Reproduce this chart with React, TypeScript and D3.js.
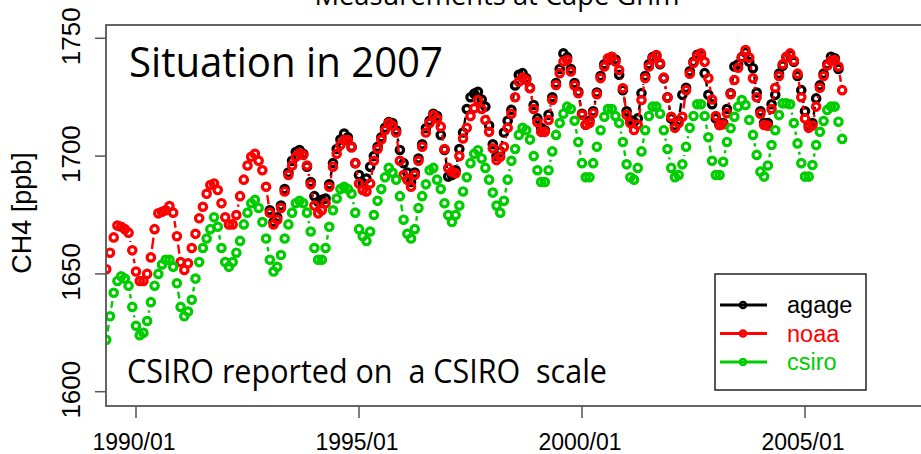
import React, { useRef, useEffect } from "react";
import * as d3 from "d3";

// monthly series, decimal year of first value
const agageStart = 1993;
const noaaStart = 1989 + 4 / 12;
const csiroStart = 1989 + 4 / 12;

const agage = [
  1677, 1672, 1674, 1679, 1686, 1693, 1698, 1701.7, 1702.6, 1701, 1695.5, 1689,
  1683, 1680.6, 1681.4, 1682, 1688, 1697, 1703, 1707, 1709.6, 1708, 1704, 1697,
  1692, 1688.6, 1690.5, 1695.5, 1700, 1704, 1708, 1712, 1714.5, 1714, 1711, 1702.6,
  1697, 1693, 1689, 1693, 1699, 1705, 1711.8, 1715, 1718, 1717, 1709, 1702.6,
  1691.3, 1692, 1694, 1703, 1710, 1720, 1725, 1726.5, 1727.3, 1724, 1721, 1713,
  1705, 1700, 1702, 1710, 1715, 1719.6, 1730, 1734.5, 1735.2, 1733, 1729, 1721.7,
  1716, 1712, 1711, 1717.5, 1725, 1731, 1737, 1743.6, 1742, 1737, 1731, 1727.3,
  1718, 1713.3, 1715, 1719, 1727, 1734, 1739, 1740.8, 1742, 1741, 1734.5, 1728,
  1719, 1715.3, 1714.6, 1716, 1726.7, 1734, 1739, 1742, 1742.5, 1739, 1733, 1725,
  1716, 1713, 1715, 1726, 1729, 1736, 1740, 1743, 1743, 1735.2, 1726, 1722,
  1716, 1713.2, 1714, 1720, 1726.7, 1738, 1739, 1742, 1744, 1740, 1737.3, 1727,
  1719, 1714, 1714, 1722, 1726, 1735, 1738.4, 1742, 1743, 1740, 1734, 1728,
  1719, 1713, 1714, 1724.5, 1730, 1735, 1739, 1742.2, 1741.5, 1737,
];

const noaa = [
  1652, 1659, 1665.5, 1670.5, 1670, 1669, 1667.5, 1660,
  1651, 1647, 1647, 1650, 1657, 1669, 1675.7, 1676.4, 1677, 1678.8, 1676, 1666,
  1655, 1651.7, 1654.5, 1661, 1667, 1673.6, 1678.5, 1684, 1687.7, 1688.4, 1685.6, 1680,
  1674, 1671, 1671, 1675, 1683, 1690, 1696, 1699.7, 1701, 1698, 1694, 1687,
  1676, 1671, 1673, 1678, 1685, 1692, 1696, 1699.7, 1701.2, 1700.5, 1696, 1688,
  1679, 1675.7, 1677, 1680, 1687, 1695.5, 1701, 1704.7, 1706.8, 1706.8, 1703.7, 1697,
  1688.4, 1685.6, 1685, 1688.4, 1698, 1703, 1707, 1711, 1714, 1713, 1710, 1698,
  1692, 1690, 1687, 1692, 1698, 1704, 1710, 1714, 1717.4, 1716, 1712.5, 1703,
  1695, 1693.4, 1692.7, 1700, 1707.5, 1712, 1717, 1720.3, 1723.8, 1720, 1715.3, 1710.3,
  1703.3, 1698.3, 1699.7, 1704, 1712, 1718, 1725, 1731.6, 1733.3, 1732.3, 1728.8, 1720,
  1714.4, 1710.3, 1710.3, 1715.3, 1723.8, 1730.2, 1735.2, 1740.1, 1740.8, 1735.9, 1730, 1726.7,
  1717.5, 1713.3, 1714, 1718.2, 1726.3, 1733.1, 1738, 1741.5, 1742.2, 1740.1, 1736.5, 1728.8,
  1717.5, 1714, 1711.1, 1713.3, 1723.8, 1733.1, 1738, 1741.5, 1742.9, 1739.4, 1733.3, 1724.8,
  1716.7, 1712, 1714, 1716.7, 1728, 1735, 1739.5, 1742.5, 1743.6, 1740, 1733, 1724,
  1717, 1713.2, 1713.5, 1718.2, 1726.3, 1732.3, 1737.5, 1741.8, 1745, 1741.8, 1733, 1725,
  1718, 1713.2, 1712.9, 1720, 1729, 1734, 1739, 1742.2, 1743.6, 1740.5, 1735, 1725,
  1716, 1712, 1713, 1721, 1729, 1734, 1738.5, 1740.5, 1740.8, 1738, 1728,
];

const csiro = [
  1622, 1632, 1642, 1647, 1649, 1648, 1645, 1636,
  1628, 1624, 1625, 1630, 1638, 1645, 1650, 1654, 1656, 1656, 1653, 1646,
  1636, 1632, 1634, 1639, 1648, 1655, 1661, 1665, 1669, 1674, 1670, 1661,
  1655, 1653, 1655, 1659, 1664, 1671, 1676, 1680, 1681.4, 1678, 1672, 1665,
  1656, 1651, 1653, 1658, 1665, 1671, 1676, 1680, 1681, 1680, 1676, 1668,
  1661, 1656, 1656, 1661, 1670, 1677, 1682, 1686, 1687, 1686, 1684, 1676,
  1669, 1666, 1664, 1668, 1675, 1681, 1686, 1691, 1695, 1693, 1690, 1683,
  1673, 1667, 1665, 1669, 1678, 1683, 1688, 1694, 1695, 1690, 1686, 1680,
  1675, 1672, 1675, 1679, 1685, 1691, 1697, 1701, 1702.5, 1699, 1695, 1690,
  1684.5, 1679, 1676, 1681, 1690, 1698, 1703, 1709, 1712, 1711, 1707, 1700,
  1694, 1689, 1689, 1694, 1702, 1709, 1714, 1718, 1721, 1720, 1715, 1706,
  1697, 1691, 1691, 1697, 1704, 1711, 1716.7, 1720, 1720, 1717, 1714, 1706,
  1696.5, 1691, 1690, 1695, 1702, 1711, 1717, 1721, 1721, 1718, 1711, 1703,
  1695, 1691, 1692, 1696.5, 1704, 1712, 1717, 1722, 1722, 1717, 1708, 1698,
  1692, 1692, 1697.6, 1706, 1711.8, 1716.7, 1721, 1723.8, 1721.7, 1715.3, 1709, 1700.5,
  1693.4, 1691.3, 1696, 1704.7, 1711, 1717.4, 1722.4, 1722.4, 1722, 1714, 1705.4, 1697,
  1691.3, 1691.3, 1696.2, 1704.7, 1710.3, 1714.9, 1719.6, 1721, 1721, 1714.6, 1707.3,
];

const seriesNames = ["agage", "noaa", "csiro"];
const seriesColors = ["#000000", "#ff0000", "#00cd00"];
const yTicks = [1600, 1650, 1700, 1750];
const xTicks = [1990, 1995, 2000, 2005];
const xTickLabels = ["1990/01", "1995/01", "2000/01", "2005/01"];

const axisFont = "'Liberation Sans', Arial, sans-serif";
const noteFont = "'Open Sans', 'Noto Sans', sans-serif";

export default function App() {
  const ref = useRef<SVGSVGElement>(null);

  useEffect(() => {
    const svg = d3.select(ref.current);
    svg.selectAll("*").remove();

    const left = 106, top = 25, bottom = 406, right = 960;
    const x = d3.scaleLinear().domain([1990, 2005]).range([136, 805]);
    const y = d3.scaleLinear().domain([1600, 1750]).range([391.7, 38.3]);

    svg.append("defs").append("clipPath").attr("id", "plotclip")
      .append("rect").attr("x", left).attr("y", top)
      .attr("width", right - left).attr("height", bottom - top);

    const plot = svg.append("g").attr("clip-path", "url(#plotclip)");
    const gap = 8.5;

    const series = [
      { start: agageStart, values: agage },
      { start: noaaStart, values: noaa },
      { start: csiroStart, values: csiro },
    ];

    series.forEach((s, k) => {
      const pts = s.values.map((v, i) => [x(s.start + i / 12), y(v)]);
      const g = plot.append("g");
      // type="b": line pieces between points, with a gap around each point
      const segs = [];
      for (let i = 1; i < pts.length; i++) {
        const [x0, y0] = pts[i - 1];
        const [x1, y1] = pts[i];
        const d = Math.hypot(x1 - x0, y1 - y0);
        if (d > 2 * gap) {
          const ux = (x1 - x0) / d, uy = (y1 - y0) / d;
          segs.push([x0 + ux * gap, y0 + uy * gap, x1 - ux * gap, y1 - uy * gap]);
        }
      }
      g.selectAll("line").data(segs).enter().append("line")
        .attr("x1", (d) => d[0]).attr("y1", (d) => d[1])
        .attr("x2", (d) => d[2]).attr("y2", (d) => d[3])
        .attr("stroke", seriesColors[k]).attr("stroke-width", 2.4);
      g.selectAll("circle").data(pts).enter().append("circle")
        .attr("cx", (d) => d[0]).attr("cy", (d) => d[1]).attr("r", 3.7)
        .attr("fill", "none").attr("stroke", seriesColors[k]).attr("stroke-width", 3.2);
    });

    // box
    const axisColor = "#555555";
    svg.append("rect").attr("x", left).attr("y", top)
      .attr("width", right - left).attr("height", bottom - top)
      .attr("fill", "none").attr("stroke", axisColor).attr("stroke-width", 1.8);

    // y axis
    const ya = svg.append("g");
    ya.selectAll("line").data(yTicks).enter().append("line")
      .attr("x1", 95).attr("x2", left)
      .attr("y1", (d) => y(d)).attr("y2", (d) => y(d))
      .attr("stroke", axisColor).attr("stroke-width", 1.5);
    ya.selectAll("text").data(yTicks).enter().append("text")
      .attr("transform", (d) => `translate(80,${y(d) - 2}) rotate(-90)`)
      .attr("text-anchor", "middle")
      .attr("font-family", axisFont).attr("font-size", 26)
      .text((d) => d);

    // x axis
    const xa = svg.append("g");
    xa.selectAll("line").data(xTicks).enter().append("line")
      .attr("x1", (d) => x(d)).attr("x2", (d) => x(d))
      .attr("y1", bottom).attr("y2", 418)
      .attr("stroke", axisColor).attr("stroke-width", 1.5);
    xa.selectAll("text").data(xTicks).enter().append("text")
      .attr("x", (d) => x(d) - 2).attr("y", 450)
      .attr("text-anchor", "middle")
      .attr("font-family", axisFont).attr("font-size", 23)
      .text((d, i) => xTickLabels[i]);

    svg.append("text")
      .attr("transform", "translate(31,213) rotate(-90)")
      .attr("text-anchor", "middle")
      .attr("font-family", axisFont).attr("font-size", 27)
      .text("CH4 [ppb]");

    svg.append("text")
      .attr("x", 497).attr("y", 5)
      .attr("text-anchor", "middle")
      .attr("font-family", noteFont).attr("font-size", 28)
      .attr("textLength", 365).attr("lengthAdjust", "spacingAndGlyphs")
      .text("Measurements at Cape Grim");

    svg.append("text")
      .attr("x", 129).attr("y", 77)
      .attr("font-family", noteFont).attr("font-size", 42)
      .attr("textLength", 314).attr("lengthAdjust", "spacingAndGlyphs")
      .text("Situation in 2007");

    svg.append("text")
      .attr("x", 127).attr("y", 383)
      .attr("font-family", noteFont).attr("font-size", 33)
      .attr("textLength", 480).attr("lengthAdjust", "spacingAndGlyphs")
      .style("white-space", "pre")
      .text("CSIRO reported on  a CSIRO  scale");

    // legend
    const lg = svg.append("g");
    lg.append("rect").attr("x", 715).attr("y", 274).attr("width", 151).attr("height", 116)
      .attr("fill", "white").attr("stroke", "#222").attr("stroke-width", 1.5);
    const rows = lg.selectAll("g.row").data(seriesNames).enter().append("g")
      .attr("class", "row")
      .attr("transform", (d, i) => `translate(0,${305 + i * 28.5})`);
    rows.append("line").attr("x1", 720).attr("x2", 767).attr("y1", 0).attr("y2", 0)
      .attr("stroke", (d, i) => seriesColors[i]).attr("stroke-width", 3);
    rows.append("circle").attr("cx", 743).attr("cy", 0).attr("r", 3)
      .attr("fill", "none").attr("stroke", (d, i) => seriesColors[i]).attr("stroke-width", 2.6);
    rows.append("text").attr("x", 787).attr("y", 8)
      .attr("font-family", axisFont).attr("font-size", 23.5)
      .attr("fill", (d, i) => seriesColors[i])
      .text((d) => d);
  }, []);

  return (
    <svg
      ref={ref}
      width={921}
      height={454}
      style={{ position: "absolute", left: 0, top: 0, background: "white" }}
    />
  );
}
